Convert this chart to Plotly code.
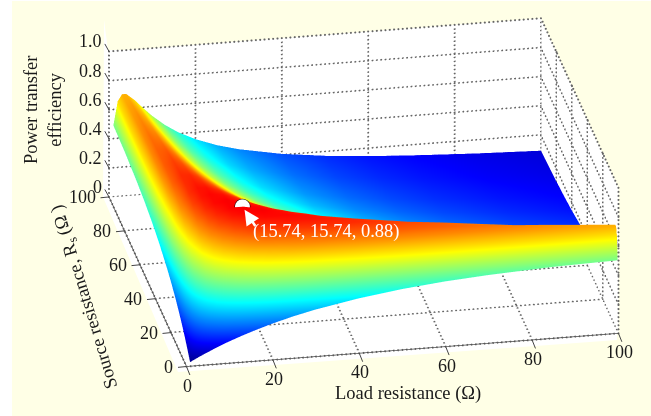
import plotly.graph_objects as go

resistance = [1, 2, 3, 4, 6, 8, 10, 13, 16, 20, 25, 30, 40, 50, 60, 70, 85, 100]
# upper triangle of the efficiency table (row i starts at column i)
eff_rows = [
 [.016,.031,.046,.060,.087,.113,.137,.170,.200,.237,.277,.311,.365,.406,.436,.457,.479,.490],
 [.060,.089,.115,.165,.211,.252,.308,.356,.412,.468,.513,.578,.618,.641,.654,.659,.653],
 [.129,.167,.235,.296,.350,.420,.478,.541,.602,.646,.702,.729,.738,.736,.721,.699],
 [.214,.298,.371,.434,.512,.574,.638,.695,.734,.774,.784,.778,.763,.733,.699],
 [.406,.494,.565,.648,.708,.764,.805,.826,.832,.812,.783,.749,.699,.651],
 [.588,.661,.739,.791,.832,.854,.857,.833,.793,.748,.704,.644,.591],
 [.730,.799,.839,.865,.869,.857,.811,.756,.703,.654,.590,.535],
 [.851,.874,.878,.860,.831,.762,.695,.635,.583,.518,.465],
 [.880,.866,.832,.791,.709,.637,.575,.523,.460,.409],
 [.835,.785,.735,.643,.568,.507,.458,.398,.352],
 [.724,.668,.573,.499,.441,.394,.340,.299],
 [.609,.514,.443,.389,.346,.297,.260],
 [.425,.361,.314,.277,.236,.205],
 [.304,.263,.231,.195,.169],
 [.226,.198,.167,.144],
 [.173,.146,.126],
 [.122,.105],
 [.090],
]
x_ticks = [0, 20, 40, 60, 80, 100]
y_ticks = [0, 20, 40, 60, 80, 100]
z_ticks = [0, 0.2, 0.4, 0.6, 0.8, 1.0]
z_labels = ["0", "0.2", "0.4", "0.6", "0.8", "1.0"]
peak = (15.74, 15.74, 0.88)

n = len(resistance)
eff = [[0.0] * n for _ in range(n)]
for i, row in enumerate(eff_rows):
    for k, v in enumerate(row):
        eff[i][i + k] = v
        eff[i + k][i] = v

jet = [[0, "rgb(0,0,128)"], [0.125, "rgb(0,0,255)"], [0.375, "rgb(0,255,255)"],
       [0.625, "rgb(255,255,0)"], [0.875, "rgb(255,0,0)"], [1, "rgb(128,0,0)"]]

fig = go.Figure()
fig.add_trace(go.Surface(x=resistance, y=resistance, z=eff, colorscale=jet, cmin=0, cmax=1,
                         showscale=False, hoverinfo="skip",
                         lighting=dict(ambient=1, diffuse=0, specular=0, roughness=1, fresnel=0)))

# dotted grid: small dots strung along each grid line of the box
gx, gy, gz = [], [], []
def seg(a, b, dots):
    for k in range(dots + 1):
        f = k / dots
        gx.append(a[0] + (b[0] - a[0]) * f)
        gy.append(a[1] + (b[1] - a[1]) * f)
        gz.append(a[2] + (b[2] - a[2]) * f)
for t in x_ticks:
    seg((t, 0, 0), (t, 100, 0), 48); seg((t, 100, 0), (t, 100, 1), 36)
for t in y_ticks:
    seg((0, t, 0), (100, t, 0), 100); seg((100, t, 0), (100, t, 1), 36)
for t in z_ticks:
    seg((0, 100, t), (100, 100, t), 100); seg((100, 0, t), (100, 100, t), 48)
fig.add_trace(go.Scatter3d(x=gx, y=gy, z=gz, mode="markers", hoverinfo="skip", showlegend=False,
                           marker=dict(color="#666666", size=1.2, line=dict(width=0))))
# solid x and y axis lines
fig.add_trace(go.Scatter3d(x=[100, 0, 0], y=[0, 0, 100], z=[0, 0, 0], mode="lines", hoverinfo="skip",
                           showlegend=False, line=dict(color="#444444", width=1.5)))
fig.add_trace(go.Scatter3d(x=[peak[0]], y=[peak[1]], z=[peak[2]], mode="markers", hoverinfo="skip",
                           showlegend=False,
                           marker=dict(size=9, color="white", line=dict(color="black", width=1))))

font = "Liberation Serif"
ink = "#1a1a1a"
def ax():
    return dict(title=dict(text=""), showgrid=False, zeroline=False, showline=False,
                showticklabels=False, ticks="", showbackground=True, backgroundcolor="white",
                showspikes=False)

def tick(x, y, z, dx, dy, text, sx, sy, anchor):
    mark = dict(x=x, y=y, z=z, text="", showarrow=True, ax=dx, ay=dy, arrowhead=0, arrowwidth=1,
                arrowcolor="#444444", standoff=0)
    label = dict(x=x, y=y, z=z, text=text, showarrow=False, xanchor=anchor, yanchor="middle",
                 xshift=sx, yshift=sy, font=dict(family=font, size=18, color=ink))
    return [mark, label]

scene_notes = [dict(x=peak[0], y=peak[1], z=peak[2], text="", showarrow=True, ax=14, ay=21,
                    arrowcolor="white", arrowwidth=2.5, arrowhead=2, arrowsize=1.2, standoff=4)]
for t in x_ticks:
    scene_notes += tick(t, 0, 0, 4, 10, str(t), 1, -19, "center")
for t in y_ticks:
    scene_notes += tick(0, t, 0, -10, 1, str(t), -11, 0, "right")
for t, lab in zip(z_ticks, z_labels):
    scene_notes += tick(0, 100, t, -5, -9, lab, -5, 10, "right")

OX, OY, W, H = 12, 1, 639, 415
def px(x): return (x - OX) / W
def py(y): return 1 - (y - OY) / H
halo = [(104, 20), (108, 50), (300, 50), (617, 200), (617, 340), (178, 372), (103, 197)]
halo_path = "M " + " L ".join(f"{px(a):.4f},{py(b):.4f}" for a, b in halo) + " Z"
cx, cy, cz = -0.1585, -0.0027, -0.071
def note(x, y, text, angle=0, color=ink):
    return dict(xref="paper", yref="paper", x=px(x), y=py(y), xanchor="center", yanchor="middle",
                text=text, textangle=angle, showarrow=False,
                font=dict(family=font, size=18.5, color=color))
fig.update_layout(
    width=W, height=H, margin=dict(l=0, r=0, t=0, b=0),
    paper_bgcolor="#FFFFE6", showlegend=False,
    shapes=[dict(type="path", xref="paper", yref="paper", path=halo_path, fillcolor="white",
                 line=dict(width=0), layer="below")],
    scene=dict(
        domain=dict(x=[0, 1], y=[0, 1]),
        aspectmode="manual", aspectratio=dict(x=2.118, y=2.027, z=0.769),
        camera=dict(projection=dict(type="orthographic"), up=dict(x=0, y=0, z=1),
                    center=dict(x=cx, y=cy, z=cz),
                    eye=dict(x=cx - 0.168 * 2, y=cy - 0.896 * 2, z=cz + 0.41 * 2)),
        xaxis=dict(ax(), range=[0, 100]),
        yaxis=dict(ax(), range=[0, 100]),
        zaxis=dict(ax(), range=[0, 1]),
        annotations=scene_notes,
    ),
    annotations=[
        note(325.5, 231, "(15.74, 15.74, 0.88)", color="white"),
        note(43, 110, "Power transfer<br>efficiency", angle=-90),
        note(85, 297, "Source resistance, R<sub>s</sub> (Ω )", angle=-107),
        note(408, 393, "Load resistance (Ω)"),
    ],
)
fig.write_html("out.html", post_script=(
    "document.body.style.margin='1px 0 0 12px';"
    "document.documentElement.style.overflow='hidden';"))
